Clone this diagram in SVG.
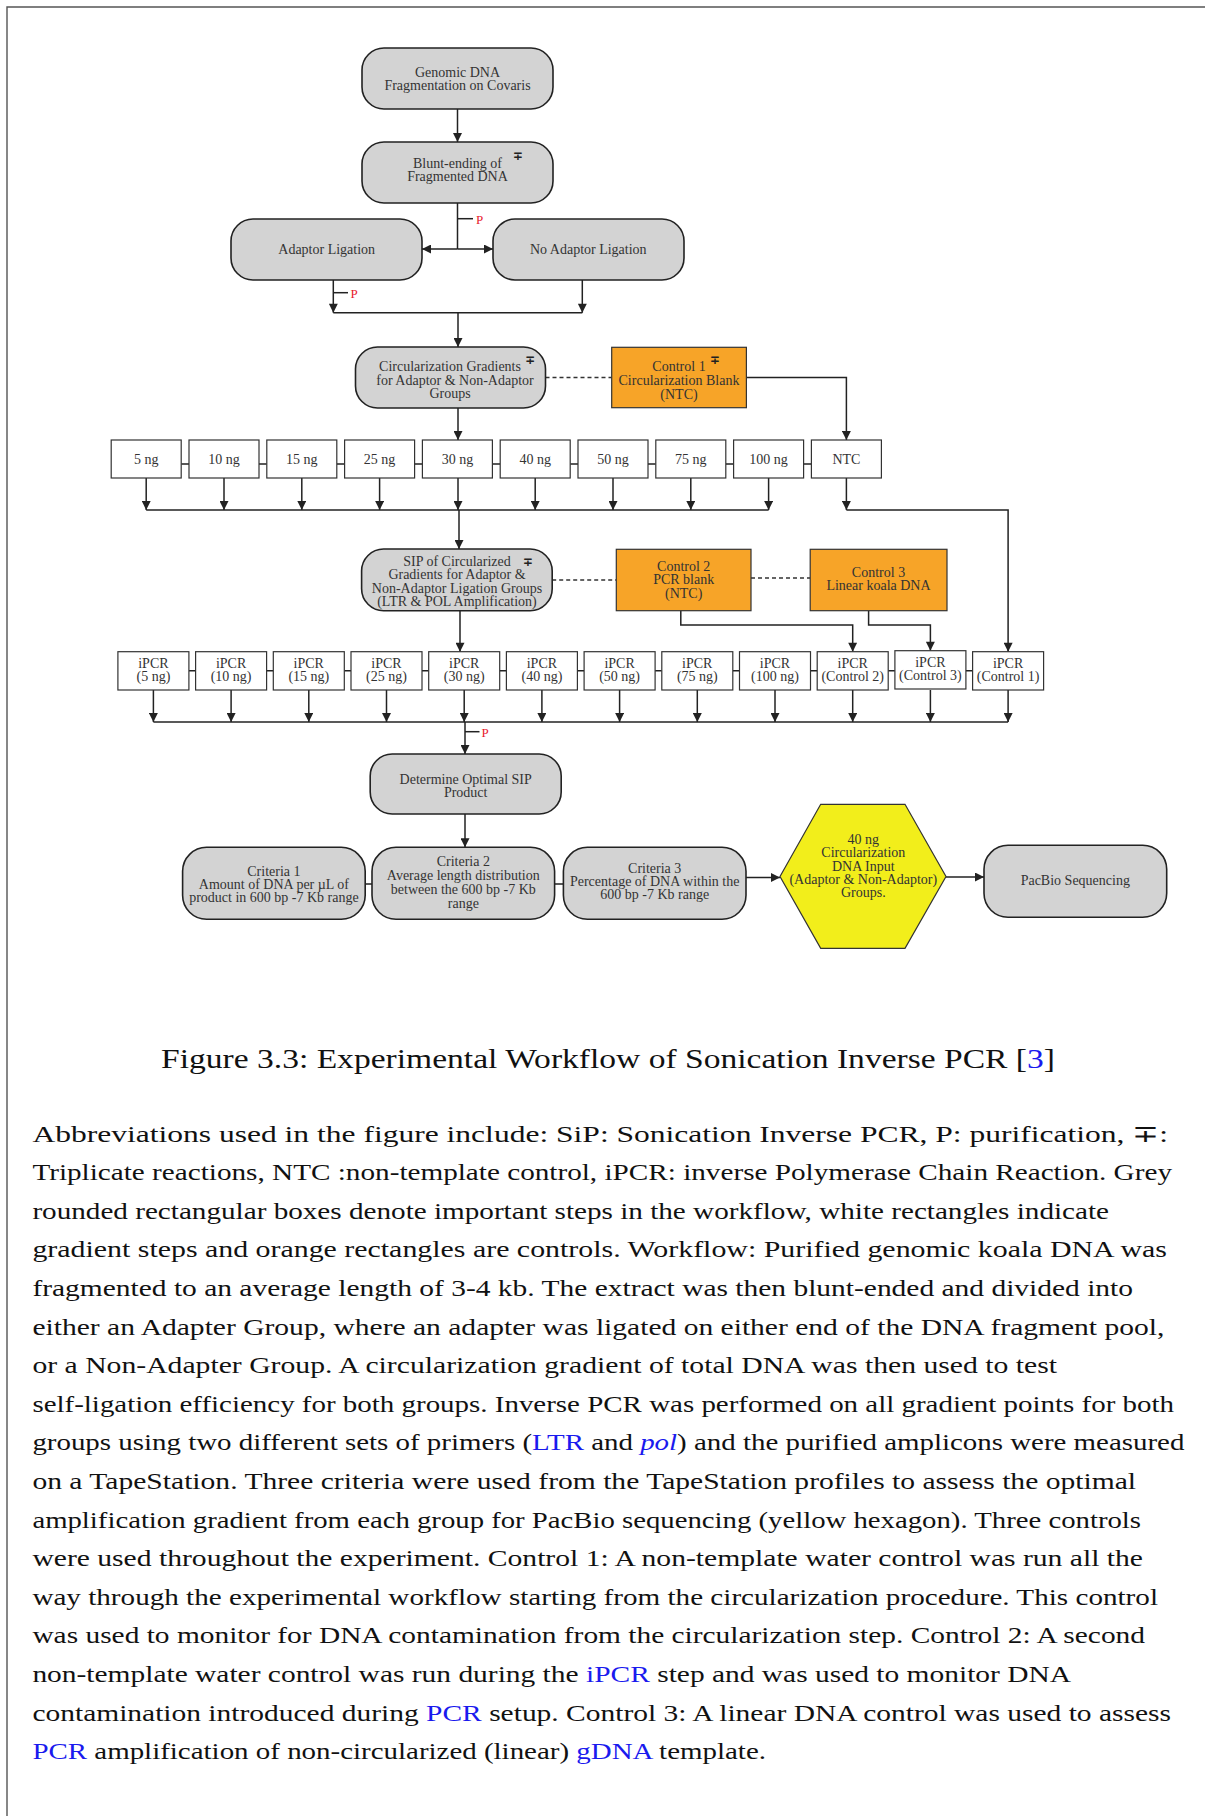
<svg xmlns="http://www.w3.org/2000/svg" width="1205" height="1816" viewBox="0 0 1205 1816">
<defs>
  <marker id="ah" viewBox="0 0 10 10" refX="10" refY="5" markerWidth="10" markerHeight="9" markerUnits="userSpaceOnUse" orient="auto">
    <path d="M0,0 L10,5 L0,10 z" fill="#222"/>
  </marker>
  <style>
    .g { fill:#d3d3d3; stroke:#222; stroke-width:1.6; }
    .w { fill:#fff; stroke:#333; stroke-width:1.2; }
    .o { fill:#f7a428; stroke:#333; stroke-width:1.2; }
    .y { fill:#f2ee1b; stroke:#333; stroke-width:1.2; }
    .t { font-family:"Liberation Serif","Times New Roman",serif; font-size:14px; fill:#333; text-anchor:middle; }
    .mp { font-family:"DejaVu Sans",sans-serif; font-size:12px; font-weight:bold; fill:#222; text-anchor:middle; }
    .p { font-family:"Liberation Serif","Times New Roman",serif; font-size:13px; fill:#e8192c; }
    .c { fill:none; stroke:#222; stroke-width:1.5; }
    .a { fill:none; stroke:#222; stroke-width:1.5; marker-end:url(#ah); }
    .d { fill:none; stroke:#333; stroke-width:1.4; stroke-dasharray:4 3; }
    .cap { font-family:"Liberation Serif","Times New Roman",serif; font-size:27px; fill:#111; }
    .b { font-family:"Liberation Serif","Times New Roman",serif; font-size:23.5px; fill:#111; }
    .lk { fill:#1a1aee; }
  </style>
</defs>

<!-- page frame -->
<path d="M7,1816 V7 H1205" fill="none" stroke="#555" stroke-width="1.4"/>

<!-- connectors -->
<g id="connectors">
  <path class="a" d="M457.5,109 V142"/>
  <path class="c" d="M457.5,203 V249"/>
  <path class="a" d="M457.5,249 H422"/>
  <path class="a" d="M457.5,249 H493"/>
  <path class="c" d="M457.5,218.7 H473"/>
  <path class="a" d="M333.3,280 V312.7"/>
  <path class="a" d="M582.3,280 V312.7"/>
  <path class="c" d="M333.3,312.7 H582.3"/>
  <path class="c" d="M333.3,292.7 H348"/>
  <path class="a" d="M458,312.7 V347"/>
  <path class="d" d="M545.5,377.5 H611.7"/>
  <path class="a" d="M746.4,377.5 H846.4 V440"/>
  <path class="a" d="M458,408 V440"/>
  <!-- links between gradient boxes -->
  <path class="c" d="M181.2,464 H189 M259,464 H266.8 M336.8,464 H344.6 M414.6,464 H422.4 M492.4,464 H500.2 M570.2,464 H578 M648,464 H655.8 M725.8,464 H733.6 M803.6,464 H811.4"/>
  <path class="a" d="M146.2,478 V510"/>
  <path class="a" d="M224,478 V510"/>
  <path class="a" d="M301.8,478 V510"/>
  <path class="a" d="M379.6,478 V510"/>
  <path class="a" d="M458,478 V510"/>
  <path class="a" d="M535.2,478 V510"/>
  <path class="a" d="M613,478 V510"/>
  <path class="a" d="M690.8,478 V510"/>
  <path class="a" d="M768.6,478 V510"/>
  <path class="a" d="M846.4,478 V510"/>
  <path class="c" d="M146.2,510 H768.6"/>
  <path class="a" d="M846.4,510 H1008.1 V651.7"/>
  <path class="a" d="M459,510 V549"/>
  <path class="d" d="M552.2,580 H616.3"/>
  <path class="d" d="M751,578 H810.2"/>
  <path class="a" d="M680.8,610.7 V625 H852.7 V651.7"/>
  <path class="a" d="M868.6,610.7 V625 H930.4 V650.7"/>
  <path class="a" d="M460,610.7 V651.7"/>
  <!-- links between iPCR boxes -->
  <path class="c" d="M188.9,670.7 H195.6 M266.6,670.7 H273.3 M344.3,670.7 H351 M422,670.7 H428.7 M499.7,670.7 H506.4 M577.4,670.7 H584.1 M655.1,670.7 H661.8 M732.8,670.7 H739.5 M810.5,670.7 H817.2 M888.2,670.7 H894.9 M965.9,670.7 H972.6"/>
  <path class="a" d="M153.4,690 V722"/>
  <path class="a" d="M231.1,690 V722"/>
  <path class="a" d="M308.8,690 V722"/>
  <path class="a" d="M386.5,690 V722"/>
  <path class="a" d="M464.2,690 V722"/>
  <path class="a" d="M541.9,690 V722"/>
  <path class="a" d="M619.6,690 V722"/>
  <path class="a" d="M697.3,690 V722"/>
  <path class="a" d="M775,690 V722"/>
  <path class="a" d="M852.7,690 V722"/>
  <path class="a" d="M930.4,690 V722"/>
  <path class="a" d="M1008.1,690 V722"/>
  <path class="c" d="M153.4,722 H1008.1"/>
  <path class="a" d="M465,722 V754"/>
  <path class="c" d="M465,731.7 H479.5"/>
  <path class="a" d="M465,814 V847.3"/>
  <path class="c" d="M365.2,884 H372 M554.6,884 H563.4"/>
  <path class="a" d="M746,877.5 H780"/>
  <path class="a" d="M946,877 H984"/>
  <text class="p" x="476" y="223.5">P</text>
  <text class="p" x="350.5" y="297.5">P</text>
  <text class="p" x="481.5" y="736.5">P</text>
</g>

<g id="n-genomic">
  <rect class="g" x="362" y="48" width="191" height="61" rx="22"/>
  <text class="t" x="457.5" y="77">Genomic DNA</text>
  <text class="t" x="457.5" y="90">Fragmentation on Covaris</text>
</g>
<g id="n-blunt">
  <rect class="g" x="362" y="142" width="191" height="61" rx="22"/>
  <text class="t" x="457.5" y="168">Blunt-ending of</text>
  <text class="t" x="457.5" y="181">Fragmented DNA</text>
  <text class="mp" x="517.7" y="160">∓</text>
</g>
<g id="n-adaptor">
  <rect class="g" x="231" y="219" width="191" height="61" rx="22"/>
  <text class="t" x="326.7" y="254">Adaptor Ligation</text>
</g>
<g id="n-noadaptor">
  <rect class="g" x="493" y="219" width="191" height="61" rx="22"/>
  <text class="t" x="588.3" y="254">No Adaptor Ligation</text>
</g>
<g id="n-circ">
  <rect class="g" x="355.5" y="347" width="190" height="61" rx="22"/>
  <text class="t" x="450" y="370.5">Circularization Gradients</text>
  <text class="t" x="455" y="384.5">for Adaptor &amp; Non-Adaptor</text>
  <text class="t" x="450" y="398">Groups</text>
  <text class="mp" x="530" y="364">∓</text>
</g>
<g id="n-control1">
  <rect class="o" x="611.7" y="347.3" width="134.7" height="60.4"/>
  <text class="t" x="679" y="371">Control 1</text>
  <text class="t" x="679" y="385">Circularization Blank</text>
  <text class="t" x="679" y="398.5">(NTC)</text>
  <text class="mp" x="714.8" y="364">∓</text>
</g>

<g id="n-g5"><rect class="w" x="111.2" y="440" width="70" height="38"/><text class="t" x="146.2" y="464">5 ng</text></g>
<g id="n-g10"><rect class="w" x="189" y="440" width="70" height="38"/><text class="t" x="224" y="464">10 ng</text></g>
<g id="n-g15"><rect class="w" x="266.8" y="440" width="70" height="38"/><text class="t" x="301.8" y="464">15 ng</text></g>
<g id="n-g25"><rect class="w" x="344.6" y="440" width="70" height="38"/><text class="t" x="379.6" y="464">25 ng</text></g>
<g id="n-g30"><rect class="w" x="422.4" y="440" width="70" height="38"/><text class="t" x="457.4" y="464">30 ng</text></g>
<g id="n-g40"><rect class="w" x="500.2" y="440" width="70" height="38"/><text class="t" x="535.2" y="464">40 ng</text></g>
<g id="n-g50"><rect class="w" x="578" y="440" width="70" height="38"/><text class="t" x="613" y="464">50 ng</text></g>
<g id="n-g75"><rect class="w" x="655.8" y="440" width="70" height="38"/><text class="t" x="690.8" y="464">75 ng</text></g>
<g id="n-g100"><rect class="w" x="733.6" y="440" width="70" height="38"/><text class="t" x="768.6" y="464">100 ng</text></g>
<g id="n-gntc"><rect class="w" x="811.4" y="440" width="70" height="38"/><text class="t" x="846.4" y="464">NTC</text></g>

<g id="n-sip">
  <rect class="g" x="361.6" y="549" width="190.6" height="61.7" rx="22"/>
  <text class="t" x="457" y="566">SIP of Circularized</text>
  <text class="t" x="457" y="579">Gradients for Adaptor &amp;</text>
  <text class="t" x="457" y="592.5">Non-Adaptor Ligation Groups</text>
  <text class="t" x="457" y="606">(LTR &amp; POL Amplification)</text>
  <text class="mp" x="527.8" y="565.5">∓</text>
</g>
<g id="n-control2">
  <rect class="o" x="616.3" y="549.3" width="134.7" height="61.4"/>
  <text class="t" x="683.7" y="570.5">Control 2</text>
  <text class="t" x="683.7" y="584">PCR blank</text>
  <text class="t" x="683.7" y="598">(NTC)</text>
</g>
<g id="n-control3">
  <rect class="o" x="810.2" y="549.3" width="136.8" height="61.4"/>
  <text class="t" x="878.5" y="576.5">Control 3</text>
  <text class="t" x="878.5" y="590">Linear koala DNA</text>
</g>

<g id="n-i5"><rect class="w" x="117.9" y="651.7" width="71" height="38.3"/><text class="t" x="153.4" y="668">iPCR</text><text class="t" x="153.4" y="681">(5 ng)</text></g>
<g id="n-i10"><rect class="w" x="195.6" y="651.7" width="71" height="38.3"/><text class="t" x="231.1" y="668">iPCR</text><text class="t" x="231.1" y="681">(10 ng)</text></g>
<g id="n-i15"><rect class="w" x="273.3" y="651.7" width="71" height="38.3"/><text class="t" x="308.8" y="668">iPCR</text><text class="t" x="308.8" y="681">(15 ng)</text></g>
<g id="n-i25"><rect class="w" x="351" y="651.7" width="71" height="38.3"/><text class="t" x="386.5" y="668">iPCR</text><text class="t" x="386.5" y="681">(25 ng)</text></g>
<g id="n-i30"><rect class="w" x="428.7" y="651.7" width="71" height="38.3"/><text class="t" x="464.2" y="668">iPCR</text><text class="t" x="464.2" y="681">(30 ng)</text></g>
<g id="n-i40"><rect class="w" x="506.4" y="651.7" width="71" height="38.3"/><text class="t" x="541.9" y="668">iPCR</text><text class="t" x="541.9" y="681">(40 ng)</text></g>
<g id="n-i50"><rect class="w" x="584.1" y="651.7" width="71" height="38.3"/><text class="t" x="619.6" y="668">iPCR</text><text class="t" x="619.6" y="681">(50 ng)</text></g>
<g id="n-i75"><rect class="w" x="661.8" y="651.7" width="71" height="38.3"/><text class="t" x="697.3" y="668">iPCR</text><text class="t" x="697.3" y="681">(75 ng)</text></g>
<g id="n-i100"><rect class="w" x="739.5" y="651.7" width="71" height="38.3"/><text class="t" x="775" y="668">iPCR</text><text class="t" x="775" y="681">(100 ng)</text></g>
<g id="n-ic2"><rect class="w" x="817.2" y="651.7" width="71" height="38.3"/><text class="t" x="852.7" y="668">iPCR</text><text class="t" x="852.7" y="681">(Control 2)</text></g>
<g id="n-ic3"><rect class="w" x="894.9" y="650.7" width="71" height="38.3"/><text class="t" x="930.4" y="667">iPCR</text><text class="t" x="930.4" y="680">(Control 3)</text></g>
<g id="n-ic1"><rect class="w" x="972.6" y="651.7" width="71" height="38.3"/><text class="t" x="1008.1" y="668">iPCR</text><text class="t" x="1008.1" y="681">(Control 1)</text></g>

<g id="n-determine">
  <rect class="g" x="370.2" y="754" width="191" height="60" rx="22"/>
  <text class="t" x="465.7" y="784">Determine Optimal SIP</text>
  <text class="t" x="465.7" y="796.5">Product</text>
</g>
<g id="n-crit1">
  <rect class="g" x="182.6" y="847.3" width="182.6" height="72" rx="24"/>
  <text class="t" x="273.9" y="875.5">Criteria 1</text>
  <text class="t" x="273.9" y="889">Amount of DNA per µL of</text>
  <text class="t" x="273.9" y="902">product in 600 bp -7 Kb range</text>
</g>
<g id="n-crit2">
  <rect class="g" x="372" y="847.3" width="182.6" height="72" rx="24"/>
  <text class="t" x="463.3" y="865.5">Criteria 2</text>
  <text class="t" x="463.3" y="879.5">Average length distribution</text>
  <text class="t" x="463.3" y="893.5">between the 600 bp -7 Kb</text>
  <text class="t" x="463.3" y="908">range</text>
</g>
<g id="n-crit3">
  <rect class="g" x="563.4" y="847.3" width="182.6" height="72" rx="24"/>
  <text class="t" x="654.7" y="872.5">Criteria 3</text>
  <text class="t" x="654.7" y="885.5">Percentage of DNA within the</text>
  <text class="t" x="654.7" y="899">600 bp -7 Kb range</text>
</g>
<g id="n-hex">
  <polygon class="y" points="780,876.5 820.7,804.3 905,804.3 946,876.5 905,948.3 820.7,948.3"/>
  <text class="t" x="863.3" y="844">40 ng</text>
  <text class="t" x="863.3" y="856.5">Circularization</text>
  <text class="t" x="863.3" y="870.5">DNA Input</text>
  <text class="t" x="863.3" y="884">(Adaptor &amp; Non-Adaptor)</text>
  <text class="t" x="863.3" y="896.5">Groups.</text>
</g>
<g id="n-pacbio">
  <rect class="g" x="984" y="845.3" width="182.7" height="72" rx="24"/>
  <text class="t" x="1075.3" y="885">PacBio Sequencing</text>
</g>

<!-- caption and description -->
<text class="cap" x="161" y="1068" textLength="894" lengthAdjust="spacingAndGlyphs">Figure 3.3: Experimental Workflow of Sonication Inverse PCR [<tspan class="lk">3</tspan>]</text>

<g id="description">
  <text class="b" x="32.4" y="1141.5" textLength="1135.6" lengthAdjust="spacingAndGlyphs">Abbreviations used in the figure include: SiP: Sonication Inverse PCR, P: purification, ∓:</text>
  <text class="b" x="32.4" y="1180.1" textLength="1139.6" lengthAdjust="spacingAndGlyphs">Triplicate reactions, NTC :non-template control, iPCR: inverse Polymerase Chain Reaction. Grey</text>
  <text class="b" x="32.4" y="1218.7" textLength="1076.6" lengthAdjust="spacingAndGlyphs">rounded rectangular boxes denote important steps in the workflow, white rectangles indicate</text>
  <text class="b" x="32.4" y="1257.3" textLength="1134.6" lengthAdjust="spacingAndGlyphs">gradient steps and orange rectangles are controls. Workflow: Purified genomic koala DNA was</text>
  <text class="b" x="32.4" y="1295.9" textLength="1100.6" lengthAdjust="spacingAndGlyphs">fragmented to an average length of 3-4 kb. The extract was then blunt-ended and divided into</text>
  <text class="b" x="32.4" y="1334.5" textLength="1132" lengthAdjust="spacingAndGlyphs">either an Adapter Group, where an adapter was ligated on either end of the DNA fragment pool,</text>
  <text class="b" x="32.4" y="1373.1" textLength="1024.6" lengthAdjust="spacingAndGlyphs">or a Non-Adapter Group. A circularization gradient of total DNA was then used to test</text>
  <text class="b" x="32.4" y="1411.7" textLength="1141.6" lengthAdjust="spacingAndGlyphs">self-ligation efficiency for both groups. Inverse PCR was performed on all gradient points for both</text>
  <text class="b" x="32.4" y="1450.3" textLength="1152" lengthAdjust="spacingAndGlyphs">groups using two different sets of primers (<tspan class="lk">LTR</tspan> and <tspan class="lk" font-style="italic">pol</tspan>) and the purified amplicons were measured</text>
  <text class="b" x="32.4" y="1488.9" textLength="1103.6" lengthAdjust="spacingAndGlyphs">on a TapeStation. Three criteria were used from the TapeStation profiles to assess the optimal</text>
  <text class="b" x="32.4" y="1527.5" textLength="1108.6" lengthAdjust="spacingAndGlyphs">amplification gradient from each group for PacBio sequencing (yellow hexagon). Three controls</text>
  <text class="b" x="32.4" y="1566.1" textLength="1110.6" lengthAdjust="spacingAndGlyphs">were used throughout the experiment. Control 1: A non-template water control was run all the</text>
  <text class="b" x="32.4" y="1604.7" textLength="1125.6" lengthAdjust="spacingAndGlyphs">way through the experimental workflow starting from the circularization procedure. This control</text>
  <text class="b" x="32.4" y="1643.3" textLength="1112.6" lengthAdjust="spacingAndGlyphs">was used to monitor for DNA contamination from the circularization step. Control 2: A second</text>
  <text class="b" x="32.4" y="1681.9" textLength="1038.6" lengthAdjust="spacingAndGlyphs">non-template water control was run during the <tspan class="lk">iPCR</tspan> step and was used to monitor DNA</text>
  <text class="b" x="32.4" y="1720.5" textLength="1138.6" lengthAdjust="spacingAndGlyphs">contamination introduced during <tspan class="lk">PCR</tspan> setup. Control 3: A linear DNA control was used to assess</text>
  <text class="b" x="32.4" y="1759.1" textLength="733.6" lengthAdjust="spacingAndGlyphs"><tspan class="lk">PCR</tspan> amplification of non-circularized (linear) <tspan class="lk">gDNA</tspan> template.</text>
</g>
</svg>
